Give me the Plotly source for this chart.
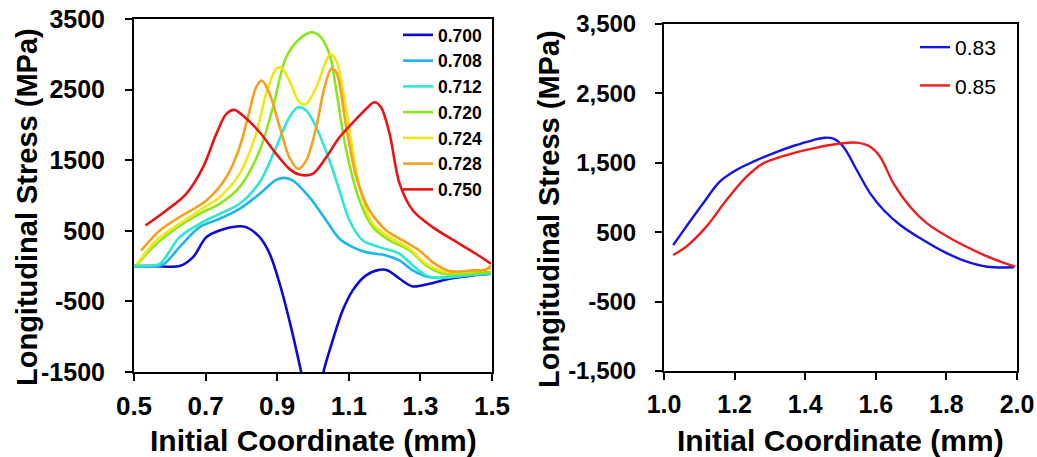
import plotly.graph_objects as go

# ---------------- data: left panel ----------------
left_names = ["0.700", "0.708", "0.712", "0.720", "0.724", "0.728", "0.750"]
left_colors = ["#0a0ad2", "#1eb4f0", "#2ee6d2", "#8ce61e", "#f2e614", "#f5a01e", "#eb1414"]

x_700 = [0.500, 0.560, 0.627, 0.665, 0.702, 0.739, 0.786, 0.813, 0.851, 0.879, 0.907, 0.934, 0.967, 0.998,
         1.029, 1.055, 1.083, 1.111, 1.148, 1.186, 1.209, 1.242, 1.279, 1.325, 1.381, 1.446, 1.497]
y_700 = [0, 0, 0, 127, 410, 505, 561, 552, 410, 175, -250, -769, -1500, -2250,
         -1500, -1052, -627, -344, -132, -52, -61, -179, -288, -250, -179, -132, -108]

x_708 = [0.500, 0.540, 0.581, 0.627, 0.683, 0.739, 0.795, 0.851, 0.897, 0.920, 0.944, 0.990, 1.037,
         1.074, 1.111, 1.148, 1.204, 1.241, 1.279, 1.316, 1.353, 1.427, 1.497]
y_708 = [0, 0, 20, 269, 552, 670, 811, 1024, 1222, 1250, 1212, 976, 646,
         387, 269, 198, 151, 80, -61, -146, -165, -132, -108]

x_712 = [0.500, 0.530, 0.572, 0.627, 0.683, 0.739, 0.795, 0.851, 0.897, 0.934, 0.958, 0.981, 1.009,
         1.046, 1.074, 1.102, 1.139, 1.186, 1.241, 1.279, 1.316, 1.353, 1.427, 1.497]
y_712 = [0, 5, 33, 410, 599, 740, 882, 1189, 1684, 2108, 2250, 2203, 1967,
         1495, 1071, 646, 363, 269, 175, 9, -132, -170, -132, -100]

x_720 = [0.507, 0.553, 0.609, 0.683, 0.739, 0.795, 0.851, 0.888, 0.925, 0.962, 0.995, 1.018, 1.046,
         1.065, 1.093, 1.130, 1.167, 1.214, 1.270, 1.316, 1.363, 1.427, 1.497]
y_720 = [9, 269, 505, 740, 882, 1118, 1637, 2250, 2958, 3217, 3311, 3264, 3005,
         2486, 1637, 929, 552, 363, 222, 9, -108, -108, -85]

x_724 = [0.509, 0.562, 0.627, 0.683, 0.739, 0.795, 0.841, 0.869, 0.897, 0.911, 0.934, 0.962, 0.981,
         1.009, 1.037, 1.048, 1.065, 1.093, 1.130, 1.167, 1.214, 1.270, 1.316, 1.372, 1.497]
y_724 = [33, 363, 599, 788, 976, 1307, 1873, 2439, 2792, 2816, 2627, 2321, 2297,
         2533, 2910, 3005, 2910, 2203, 1118, 599, 410, 245, 33, -85, -38]

x_728 = [0.520, 0.572, 0.627, 0.702, 0.758, 0.795, 0.823, 0.841, 0.857, 0.879, 0.907, 0.934, 0.958,
         0.981, 1.009, 1.032, 1.051, 1.065, 1.093, 1.121, 1.158, 1.205, 1.251, 1.297, 1.334, 1.381,
         1.446, 1.483, 1.497]
y_728 = [222, 505, 693, 929, 1259, 1684, 2203, 2533, 2627, 2439, 1967, 1542, 1377,
         1495, 1967, 2533, 2792, 2745, 1967, 1259, 788, 505, 363, 222, 57, -71,
         -61, -52, 9]

x_750 = [0.532, 0.590, 0.646, 0.693, 0.730, 0.758, 0.781, 0.804, 0.851, 0.897, 0.934, 0.962, 0.999,
         1.037, 1.074, 1.121, 1.148, 1.172, 1.190, 1.214, 1.242, 1.279, 1.334, 1.409, 1.455, 1.497]
y_750 = [575, 788, 1024, 1401, 1873, 2156, 2212, 2132, 1896, 1590, 1377, 1297, 1307,
         1542, 1825, 2085, 2226, 2321, 2250, 1873, 1165, 788, 552, 316, 175, 33]

left_x = [x_700, x_708, x_712, x_720, x_724, x_728, x_750]
left_y = [y_700, y_708, y_712, y_720, y_724, y_728, y_750]

# ---------------- data: right panel ----------------
right_names = ["0.83", "0.85"]
right_colors = ["#1414e6", "#ee1c1c"]

x_083 = [1.026, 1.063, 1.111, 1.158, 1.205, 1.253, 1.309, 1.366, 1.423, 1.456, 1.480, 1.508, 1.546,
         1.584, 1.622, 1.669, 1.726, 1.792, 1.858, 1.915, 1.991]
y_083 = [316, 580, 916, 1228, 1396, 1516, 1636, 1742, 1828, 1862, 1848, 1732, 1396,
         1060, 820, 604, 412, 220, 75, 3, -6]

x_085 = [1.026, 1.063, 1.120, 1.177, 1.234, 1.281, 1.347, 1.423, 1.489, 1.546, 1.584, 1.612, 1.650,
         1.697, 1.745, 1.820, 1.896, 1.953, 1.995]
y_085 = [172, 292, 580, 964, 1300, 1492, 1612, 1708, 1771, 1790, 1732, 1588, 1204,
         868, 628, 388, 196, 75, 3]

right_x = [x_083, x_085]
right_y = [y_083, y_085]

# ---------------- tick labels ----------------
left_xticks = [0.5, 0.7, 0.9, 1.1, 1.3, 1.5]
left_xticktext = ["0.5", "0.7", "0.9", "1.1", "1.3", "1.5"]
right_xticks = [1.0, 1.2, 1.4, 1.6, 1.8, 2.0]
right_xticktext = ["1.0", "1.2", "1.4", "1.6", "1.8", "2.0"]
yticks = [-1500, -500, 500, 1500, 2500, 3500]
left_yticktext = ["-1500", "-500", "500", "1500", "2500", "3500"]
right_yticktext = ["-1,500", "-500", "500", "1,500", "2,500", "3,500"]

x_title = "Initial Coordinate (mm)"
y_title = "Longitudinal Stress (MPa)"

W, H = 1037, 457
FONT = "Liberation Sans, Arial, sans-serif"

fig = go.Figure()
for xs, ys, name, col in zip(left_x, left_y, left_names, left_colors):
    fig.add_trace(go.Scatter(x=xs, y=ys, name=name, mode="lines",
                             line=dict(color=col, width=2.6, shape="spline", smoothing=0.9),
                             xaxis="x", yaxis="y", legend="legend", legendgroup=name))
for xs, ys, name, col in zip(right_x, right_y, right_names, right_colors):
    fig.add_trace(go.Scatter(x=xs, y=ys, name=name, mode="lines",
                             line=dict(color=col, width=2.4, shape="spline", smoothing=1.0),
                             xaxis="x2", yaxis="y2", legend="legend2", legendgroup=name))

def px_x(p):
    return p / W

def px_y(p):
    return 1 - p / H

axis_common = dict(showline=True, linecolor="black", linewidth=2, mirror=True,
                   ticks="outside", ticklen=7, tickwidth=2, tickcolor="black",
                   showgrid=False, zeroline=False, automargin=False)

fig.update_layout(
    width=W, height=H,
    margin=dict(l=0, r=0, t=0, b=0, pad=0, autoexpand=False),
    paper_bgcolor="white", plot_bgcolor="white",
    font=dict(family=FONT, color="black"),
    xaxis=dict(domain=[px_x(134), px_x(492)], range=[0.5, 1.5], tickvals=left_xticks,
               ticktext=left_xticktext, anchor="y",
               tickfont=dict(size=26, family=FONT, weight="bold"), ticklabelstandoff=3, **axis_common),
    yaxis=dict(domain=[px_y(372), px_y(19)], range=[-1500, 3500], tickvals=yticks,
               ticktext=left_yticktext, anchor="x",
               tickfont=dict(size=25, family=FONT, weight="bold"), ticklabelstandoff=15, **axis_common),
    xaxis2=dict(domain=[px_x(664), px_x(1017)], range=[1.0, 2.0], tickvals=right_xticks,
                ticktext=right_xticktext, anchor="y2",
                tickfont=dict(size=25, family=FONT, weight="bold"), ticklabelstandoff=3, **axis_common),
    yaxis2=dict(domain=[px_y(371), px_y(24)], range=[-1500, 3500], tickvals=yticks,
                ticktext=right_yticktext, anchor="x2",
                tickfont=dict(size=24, family=FONT, weight="bold"), ticklabelstandoff=14, **axis_common),
    legend=dict(x=px_x(398), y=px_y(17), xanchor="left", yanchor="top",
                bgcolor="rgba(0,0,0,0)", borderwidth=0, tracegroupgap=0,
                font=dict(size=17.5, family=FONT, weight="bold")),
    legend2=dict(x=px_x(915), y=px_y(27), xanchor="left", yanchor="top",
                 bgcolor="rgba(0,0,0,0)", borderwidth=0, tracegroupgap=8,
                 font=dict(size=21, family=FONT)),
    annotations=[
        dict(text=x_title, x=px_x(313), y=px_y(440), xref="paper", yref="paper",
             xanchor="center", yanchor="middle", showarrow=False,
             font=dict(size=30, family=FONT, weight="bold")),
        dict(text=x_title, x=px_x(840), y=px_y(440), xref="paper", yref="paper",
             xanchor="center", yanchor="middle", showarrow=False,
             font=dict(size=30, family=FONT, weight="bold")),
        dict(text=y_title, x=px_x(27), y=px_y(207), xref="paper", yref="paper", textangle=-90,
             xanchor="center", yanchor="middle", showarrow=False,
             font=dict(size=29, family=FONT, weight="bold")),
        dict(text=y_title, x=px_x(549), y=px_y(209), xref="paper", yref="paper", textangle=-90,
             xanchor="center", yanchor="middle", showarrow=False,
             font=dict(size=29, family=FONT, weight="bold")),
    ],
)

fig.write_html("out.html", config={"displayModeBar": False},
               post_script="document.body.style.margin='0';document.body.style.overflow='hidden';")
